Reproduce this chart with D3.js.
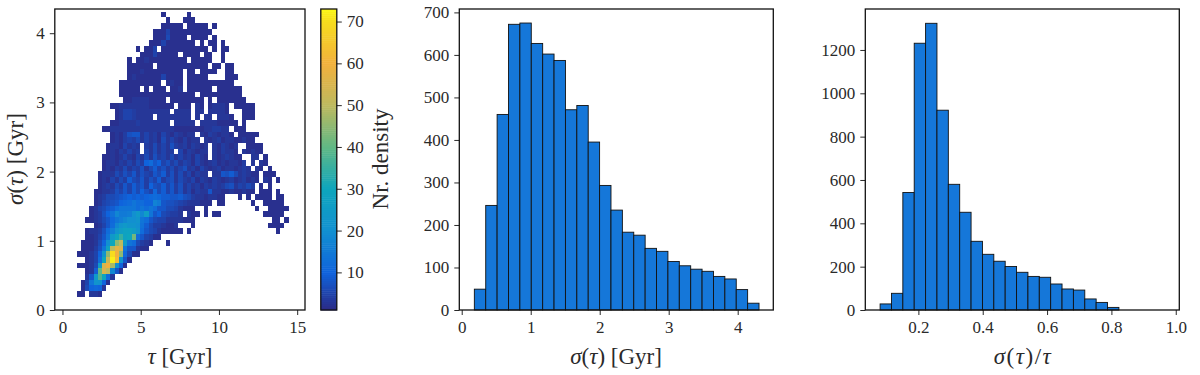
<!DOCTYPE html>
<html><head><meta charset="utf-8">
<script src="https://cdn.jsdelivr.net/npm/d3@7"></script>
<style>
html,body{margin:0;padding:0;background:#fff}
svg{display:block}
text{font-family:"Liberation Serif",serif;fill:#2a2a2a}
</style></head><body>
<svg id="c" width="1200" height="375"></svg>
<script>
// Density grid: each row (bottom to top) is [first column, counts...], 0 = empty cell
const densityRows = [
[0,2,2,0,3,3,2],
[1,2,6,10,11,10,3],
[1,2,5,14,22,21,10,2],
[2,3,8,25,38,30,12,3],
[2,2,3,9,40,55,50,18,8,2],
[0,2,2,2,3,6,25,55,60,48,20,10,2],
[2,2,3,5,12,30,52,72,62,22,8,2],
[0,2,2,2,3,5,10,22,45,70,60,45,11,6,2,2],
[1,2,2,2,4,7,14,28,50,58,55,14,8,8,3,2,2],
[1,2,2,2,3,6,10,20,30,45,50,25,14,12,6,4,3,2,0,0,0,2],
[2,2,2,3,5,8,14,24,30,35,28,30,42,12,8,5,4,2,2],
[2,2,3,3,4,7,12,16,22,26,28,28,26,22,12,8,6,5,3,2,2,2,2,2,0,2,0,0,0,0,0,0,0,0,0,0,0,0,0,0,0,0,0,0,0,0,2],
[4,2,3,5,8,12,18,22,24,22,22,20,13,9,6,4,4,3,2,2,3,0,0,0,2,0,0,0,0,0,0,0,0,0,0,0,0,0,0,0,0,0,2,2,2,2],
[2,2,2,3,4,6,8,11,14,16,18,20,20,22,14,12,8,6,5,5,3,3,3,3,2,2,2,0,0,0,0,0,0,0,0,0,0,0,0,0,0,0,0,0,0,2,2,0,2],
[3,2,3,4,7,10,13,18,15,15,16,20,24,18,26,14,8,10,6,5,4,4,3,0,3,2,2,0,2,0,2,2,0,0,0,0,0,0,0,0,0,0,2,2,2,2,2],
[3,2,3,5,6,8,9,12,14,14,14,14,12,14,12,14,12,8,8,6,6,5,3,2,2,2,0,0,2,0,0,0,0,0,0,0,0,0,0,0,2,0,0,2,2,2,2,2],
[4,2,3,5,6,7,8,10,11,12,14,12,12,10,10,17,15,8,7,7,6,5,4,3,3,3,2,2,2,0,2,2,0,0,0,0,0,0,2,0,0,2,2,2,2,2],
[4,2,3,4,6,6,7,8,9,10,9,10,9,10,11,12,11,9,9,8,8,9,7,6,4,3,3,2,3,3,2,2,0,0,0,2,0,2,0,2,2,2,2,0,2,2],
[4,2,2,3,3,4,7,5,8,5,9,6,10,7,5,11,6,9,5,8,4,7,3,5,2,4,3,3,8,3,3,2,2,3,2,2,3,2,2,0,2,2,2,0,2],
[5,2,3,4,3,6,4,8,5,9,6,8,4,10,7,6,9,5,8,4,7,3,5,3,4,2,4,3,4,3,4,6,7,3,5,4,6,4,0,2,0,2],
[5,2,3,2,5,3,6,4,9,6,5,8,4,7,5,9,4,6,7,3,6,4,3,5,2,4,3,2,4,3,2,3,4,2,3,4,2,3,2,0,3,2,0,2],
[5,2,3,3,3,6,4,7,5,8,4,7,5,4,8,6,9,4,7,3,6,3,5,2,4,3,3,0,3,3,8,7,9,6,3,4,3,2,2,0,2,2,2],
[6,2,3,2,4,3,6,3,5,4,7,3,6,9,5,7,4,6,3,5,7,3,4,2,5,3,2,3,4,2,3,3,2,3,4,3,0,3,2,0,2],
[6,2,3,3,2,4,3,5,3,6,4,10,12,8,10,5,7,4,6,3,5,4,2,5,3,2,3,4,2,3,2,3,3,2,4,0,3,0,3,2],
[6,2,2,3,2,3,5,3,2,5,3,6,3,7,4,5,3,6,3,5,3,4,2,5,3,2,0,3,2,3,4,3,2,2,0,0,3,3,0,2],
[7,2,3,2,4,3,5,3,4,0,5,3,6,3,5,3,4,0,5,2,4,3,2,3,3,0,3,2,4,3,3,2,0,3,2,3,2,2],
[7,2,3,3,2,5,3,4,3,0,4,3,6,3,5,3,7,4,3,4,2,4,3,2,3,0,3,2,4,3,2,3,0,0,2,2,2,2],
[8,2,3,2,4,5,4,6,3,5,3,4,2,6,3,5,3,2,4,2,3,3,0,3,2,3,4,2,3,3,2,2,3,2,2],
[8,2,3,2,4,7,8,8,3,5,3,4,2,5,3,2,4,3,2,3,3,0,3,2,4,3,2,3,3,2,0,2,2,2,2,2],
[6,2,2,3,3,3,3,3,3,3,3,3,3,3,3,3,3,3,2,2,2,2,2,2,2,3,3,4,4,3,3,0,2,2,2],
[8,2,2,3,3,3,3,4,3,3,3,3,3,3,3,0,3,3,3,3,3,0,3,3,3,3,2,2,2,2,2,0,2],
[9,2,3,5,5,4,3,3,3,3,0,3,3,3,3,3,3,3,3,0,3,0,3,3,0,3,3,3,2,0,0,2,2,2],
[9,2,3,5,5,4,3,3,3,3,3,3,3,3,0,3,3,3,3,0,3,3,0,3,3,3,3,2,0,0,0,2,2,2],
[8,2,2,3,3,3,3,3,3,3,2,2,2,2,2,2,0,2,2,2,0,3,2,0,2,3,3,3,2,0,2,2,2,2,2],
[11,2,2,3,3,3,3,2,2,2,2,0,2,2,2,2,2,2,2,2,0,2,0,2,2,2,2,2,2,2],
[10,2,2,2,2,2,2,2,2,2,2,2,2,2,2,2,2,2,2,0,2,2,2,2,2,2,2,2,2,2],
[10,2,2,2,2,2,0,2,0,2,2,2,0,2,2,3,0,2,2,2,2,2,2,0,2,2,2,2,2,2],
[10,2,2,2,2,2,2,2,2,2,2,0,2,3,2,2,0,2,2,2,2,2,2,2,2,2,2,2],
[12,2,3,2,2,2,2,2,2,5,2,2,2,2,0,2,2,2,2,2,0,0,0,0,2,2,2],
[12,2,2,2,3,2,2,2,2,2,2,2,2,2,0,2,2,0,2,2,2,2,0,0,2,2],
[12,2,2,2,2,2,2,0,2,2,2,2,2,2,2,2,2,2,2,2,0,2,2,0,2,2],
[12,2,0,2,2,3,2,2,2,2,2,2,2,2,2,0,2,2,2,2,2,0,0,2],
[15,2,2,2,5,2,2,2,2,2,0,2,2,2,2,0,2,2,0,0,2],
[14,2,0,2,2,5,0,2,2,2,2,2,2,2,2,2,2,2,0,2,0,2,2],
[17,2,2,2,5,2,2,2,2,2,2,2,0,2,0,2,2,0,2],
[18,2,2,2,6,2,2,2,2,0,2,2,2,2,0,2],
[18,2,2,2,5,2,2,2,2,2,2,2,2,2,2],
[20,2,2,2,2,2,0,2,2,2,2,2,0,2],
[21,2,0,0,0,2,2,2],
[20,2,0,0,0,0,0,2]
];
const tauRange = [0.9, 14.46];
const sigmaRange = [0.19, 4.31];
const tauTicks = [0,5,10,15];
const sigmaTicks = [0,1,2,3,4];
const barTicks = [10,20,30,40,50,60,70];
const rampStops = [1,10,20,30,40,50,60,70,73];
const rampColors = ["#2c2a85","#0f63dc","#1290d0","#0ea6bd","#60b885","#bdb95f","#f2b13d","#f7dc1e","#fbf815"];

const sigmaHist = [49,246,460,672,675,627,602,587,471,481,395,293,235,183,176,145,138,114,104,96,91,79,73,48,16];
const sigmaHistRange = [0.183,4.309];
const sigmaHistXTicks = [0,1,2,3,4];
const sigmaHistYTicks = [0,100,200,300,400,500,600,700];
const ratioHist = [28,77,542,1231,1323,922,580,451,317,257,225,201,174,155,151,120,97,92,51,35,12,0,0,0,0,0];
const ratioHistRange = [0.081,1.0];
const ratioHistXTicks = [0.2,0.4,0.6,0.8,1.0];
const ratioHistYTicks = [0,200,400,600,800,1000,1200];

const INK = "#111", BAR = "#1577d9";
const svg = d3.select("#c");
const plotTop = 9, plotBottom = 310;

function frame(g,x0,x1){
  g.append("rect").attr("x",x0).attr("y",plotTop).attr("width",x1-x0).attr("height",plotBottom-plotTop)
   .attr("fill","none").attr("stroke",INK).attr("stroke-width",1.3);
}
function styleAxis(sel){
  sel.select(".domain").remove();
  sel.selectAll("line").attr("stroke",INK).attr("stroke-width",0.9);
  sel.selectAll("text").style("font-size","17px").attr("fill","#2a2a2a");
}
function axes(g,x,y,xt,yt,xf,yf){
  g.append("g").attr("transform",`translate(0,${plotBottom})`)
   .call(d3.axisBottom(x).tickValues(xt).tickSize(5).tickPadding(6).tickFormat(xf)).call(styleAxis);
  g.append("g").attr("transform",`translate(${x.range()[0]},0)`)
   .call(d3.axisLeft(y).tickValues(yt).tickSize(5).tickPadding(5).tickFormat(yf)).call(styleAxis);
}
function mathLabel(g,parts,attrs,spacing){
  const t = g.append("text").attr("text-anchor","middle").style("font-size","23px");
  if(spacing) t.style("letter-spacing",spacing);
  Object.entries(attrs).forEach(([k,v])=>t.attr(k,v));
  parts.forEach(([s,it])=>t.append("tspan").text(s).style("font-style",it?"italic":"normal"));
  return t;
}

/* ---- left panel ---- */
const colour = d3.scaleLinear().domain(rampStops).range(rampColors).interpolate(d3.interpolateRgb);
const g1 = svg.append("g");
const x1 = d3.scaleLinear().domain([-0.49,15.5]).range([54.8,305]);
const y1 = d3.scaleLinear().domain([0,4.35]).range([plotBottom,plotTop]);
const NB = 50;
const tauStep = (tauRange[1]-tauRange[0])/NB, sigStep = (sigmaRange[1]-sigmaRange[0])/NB;
const cells = densityRows.flatMap((r,j)=>r.slice(1).map((v,k)=>({i:r[0]+k,j,v}))).filter(d=>d.v>0);
g1.append("g").selectAll("rect").data(cells).join("rect")
  .attr("x",d=>x1(tauRange[0]+d.i*tauStep))
  .attr("width",d=>x1(tauRange[0]+(d.i+1)*tauStep)-x1(tauRange[0]+d.i*tauStep))
  .attr("y",d=>y1(sigmaRange[0]+(d.j+1)*sigStep))
  .attr("height",d=>y1(sigmaRange[0]+d.j*sigStep)-y1(sigmaRange[0]+(d.j+1)*sigStep))
  .attr("fill",d=>colour(d.v)).attr("shape-rendering","crispEdges");
frame(g1,54.8,305);
axes(g1,x1,y1,tauTicks,sigmaTicks,d3.format("d"),d3.format("d"));
mathLabel(g1,[["τ",1],[" [Gyr]",0]],{x:180,y:364});
mathLabel(g1,[["σ",1],["(",0],["τ",1],[") [Gyr]",0]],{transform:"translate(23,159) rotate(-90)"});

/* ---- colour bar ---- */
const gb = svg.append("g");
const yb = d3.scaleLinear().domain([1,73]).range([plotBottom,plotTop]);
gb.append("g").selectAll("rect").data(d3.range(1,73,0.5)).join("rect")
  .attr("x",320.8).attr("width",16)
  .attr("y",d=>yb(d+0.5)).attr("height",d=>yb(d)-yb(d+0.5)+0.5)
  .attr("fill",d=>colour(d+0.25));
gb.append("rect").attr("x",320.8).attr("y",plotTop).attr("width",16).attr("height",plotBottom-plotTop)
  .attr("fill","none").attr("stroke",INK).attr("stroke-width",1.3);
gb.append("g").attr("transform","translate(336.8,0)")
  .call(d3.axisRight(yb).tickValues(barTicks).tickSize(5).tickPadding(5).tickFormat(d3.format("d"))).call(styleAxis);
gb.append("text").attr("text-anchor","middle").attr("transform","translate(388,159) rotate(-90)")
  .style("font-size","23px").text("Nr. density");

/* ---- histograms ---- */
function hist(vals,range,x,y,xt,yt,xf,yf,x0,x1_){
  const g = svg.append("g");
  const step = (range[1]-range[0])/vals.length;
  g.append("g").selectAll("rect").data(vals).join("rect")
    .attr("x",(d,i)=>x(range[0]+i*step))
    .attr("width",(d,i)=>x(range[0]+(i+1)*step)-x(range[0]+i*step))
    .attr("y",d=>y(d)).attr("height",d=>y(0)-y(d))
    .attr("fill",BAR).attr("stroke",INK).attr("stroke-width",0.9);
  frame(g,x0,x1_);
  axes(g,x,y,xt,yt,xf,yf);
  return g;
}
const x2 = d3.scaleLinear().domain([-0.035,4.516]).range([459.3,773.3]);
const y2 = d3.scaleLinear().domain([0,708]).range([plotBottom,plotTop]);
const g2 = hist(sigmaHist,sigmaHistRange,x2,y2,sigmaHistXTicks,sigmaHistYTicks,d3.format("d"),d3.format("d"),459.3,773.3);
mathLabel(g2,[["σ",1],["(",0],["τ",1],[") [Gyr]",0]],{x:616,y:364});

const x3 = d3.scaleLinear().domain([0.035,1.011]).range([865.3,1179.3]);
const y3 = d3.scaleLinear().domain([0,1389]).range([plotBottom,plotTop]);
const g3 = hist(ratioHist,ratioHistRange,x3,y3,ratioHistXTicks,ratioHistYTicks,d3.format(".1f"),d3.format("d"),865.3,1179.3);
mathLabel(g3,[["σ",1],["(",0],["τ",1],[")/",0],["τ",1]],{x:1023,y:364},"1.5px");
</script>
</body></html>
